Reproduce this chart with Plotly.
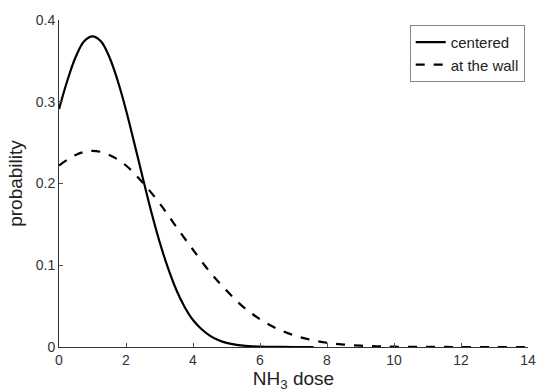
import plotly.graph_objects as go

# NH3 dose values (x) and probabilities
x_centered = [0, 0.25, 0.5, 0.75, 1, 1.25, 1.5, 1.75, 2, 2.25, 2.5, 2.75, 3, 3.25, 3.5,
              3.75, 4, 4.25, 4.5, 4.75, 5, 5.5, 6, 6.5, 7, 7.6]
p_centered = [0.291, 0.326, 0.355, 0.374, 0.380, 0.374, 0.355, 0.326, 0.290, 0.249, 0.207,
              0.166, 0.129, 0.097, 0.070, 0.049, 0.033, 0.022, 0.014, 0.0085, 0.005, 0.0016,
              0.0004, 0.0001, 0.0, 0.0]

x_wall = [0, 0.5, 1, 1.5, 2, 2.5, 3, 3.5, 4, 4.5, 5, 5.5, 6, 6.5, 7, 7.5, 8, 8.5, 9, 9.5,
          10, 11, 12, 13, 14]
p_wall = [0.222, 0.235, 0.240, 0.235, 0.222, 0.201, 0.176, 0.147, 0.119, 0.092, 0.069, 0.049,
          0.034, 0.0226, 0.0144, 0.0089, 0.0052, 0.003, 0.0016, 0.0008, 0.0004, 0.0001, 0.0,
          0.0, 0.0]

x_ticks = [0, 2, 4, 6, 8, 10, 12, 14]
y_ticks = [0, 0.1, 0.2, 0.3, 0.4]
y_tick_labels = ["0", "0.1", "0.2", "0.3", "0.4"]

font_family = "Liberation Sans, Arial, sans-serif"

fig = go.Figure()
fig.add_trace(go.Scatter(x=x_centered, y=p_centered, mode="lines", name="centered",
                         line=dict(color="black", width=2.2, shape="spline", smoothing=1.0)))
fig.add_trace(go.Scatter(x=x_wall, y=p_wall, mode="lines", name="at the wall",
                         line=dict(color="black", width=2.2, dash="dash", shape="spline",
                                   smoothing=1.0)))

axis_common = dict(showgrid=False, zeroline=False, showline=True, linecolor="#333333",
                   linewidth=1, ticks="inside", ticklen=4, tickcolor="#555555",
                   automargin=False,
                   tickfont=dict(size=14, color="#333333", family=font_family))

fig.update_layout(
    width=537, height=392,
    margin=dict(l=59, r=9, t=20, b=45),
    paper_bgcolor="white", plot_bgcolor="white",
    font=dict(family=font_family, color="#222222"),
    xaxis=dict(range=[0, 14], tickvals=x_ticks, **axis_common,
               title=dict(text="NH<sub>3</sub> dose", font=dict(size=19, color="#222222"),
                          standoff=0)),
    yaxis=dict(range=[0, 0.4], tickvals=y_ticks, ticktext=y_tick_labels, **axis_common,
               title=dict(text="probability", font=dict(size=19, color="#222222"),
                          standoff=8)),
    legend=dict(x=0.993, y=0.985, xanchor="right", yanchor="top",
                bordercolor="#888888", borderwidth=1, bgcolor="white",
                font=dict(size=15, color="#222222"), tracegroupgap=0,
                itemwidth=30),
    showlegend=True,
)

fig.write_html("out.html", config={"displayModeBar": False},
               post_script="document.body.style.margin='0';document.body.style.overflow='hidden';")
